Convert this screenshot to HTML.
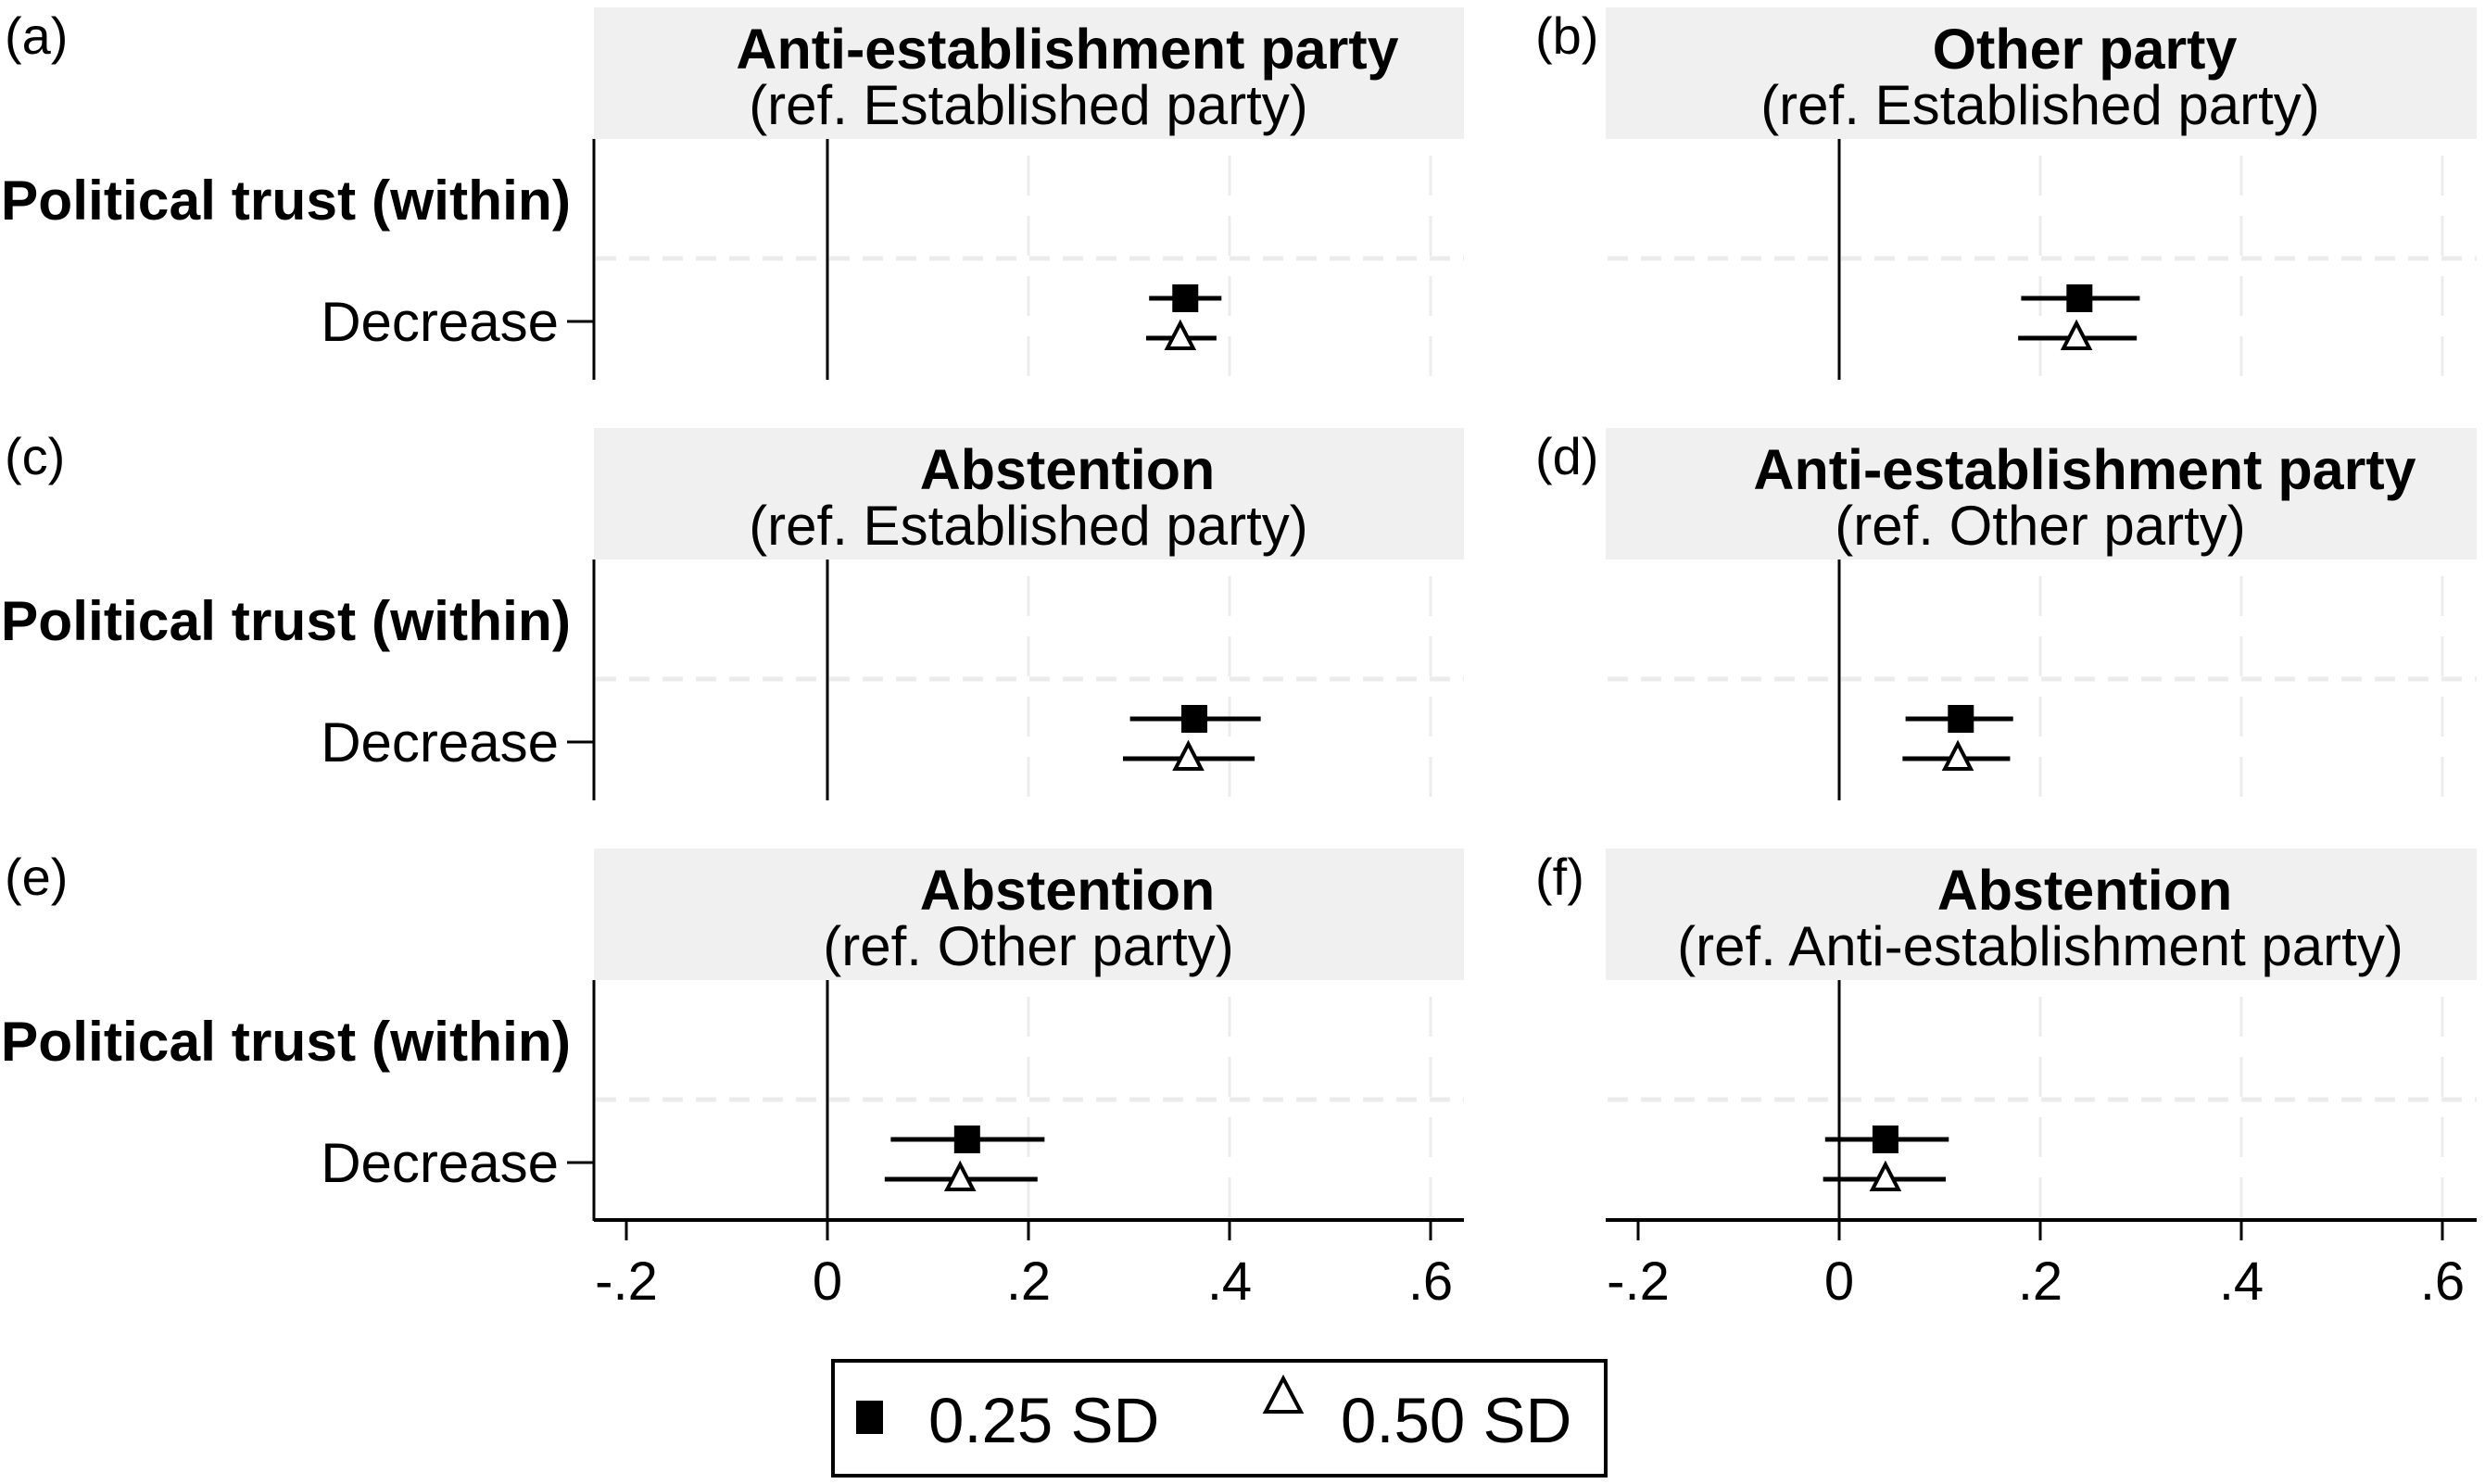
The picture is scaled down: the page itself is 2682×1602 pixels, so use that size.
<!DOCTYPE html>
<html><head><meta charset="utf-8">
<style>
html,body{margin:0;padding:0;background:#fff;}
svg{display:block;font-family:"Liberation Sans",Arial,sans-serif;}
</style></head>
<body>
<svg id="chart" width="2682" height="1602" viewBox="0 0 2682 1602" xmlns="http://www.w3.org/2000/svg"></svg>
<script>
const panelLetters = ["(a)","(b)","(c)","(d)","(e)","(f)"];
const titles = ["Anti-establishment party","Other party","Abstention","Anti-establishment party","Abstention","Abstention"];
const subtitles = ["(ref. Established party)","(ref. Established party)","(ref. Established party)","(ref. Other party)","(ref. Other party)","(ref. Anti-establishment party)"];
const xTicks = [-0.2, 0, 0.2, 0.4, 0.6];
const xTickLabels = ["-.2","0",".2",".4",".6"];
const est25 = [0.356, 0.239, 0.365, 0.121, 0.139, 0.046];
const lo25  = [0.320, 0.181, 0.301, 0.066, 0.063, -0.014];
const hi25  = [0.392, 0.299, 0.431, 0.173, 0.216, 0.109];
const est50 = [0.351, 0.236, 0.359, 0.118, 0.132, 0.046];
const lo50  = [0.317, 0.178, 0.294, 0.063, 0.057, -0.016];
const hi50  = [0.387, 0.296, 0.425, 0.170, 0.209, 0.106];

const svg = document.getElementById('chart');
const NS = "http://www.w3.org/2000/svg";
function mk(tag, attrs, parent){
  const e = document.createElementNS(NS, tag);
  for (const k in attrs) e.setAttribute(k, attrs[k]);
  (parent||svg).appendChild(e);
  return e;
}
const colX0 = [893, 1985];
const colLeft = [641, 1733];
const colRight = [1580, 2673];
const PXU = 217/0.2;
const rowTop = [8, 462, 916];
function xs(col, v){ return colX0[col] + v*PXU; }

for (let i=0;i<6;i++){
  const col = i%2, row = Math.floor(i/2);
  const top = rowTop[row];
  const sTop = top, sBot = top+142, pTop = sBot, pBot = sBot+260;
  const g = mk('g', {});
  
  
  const L = colLeft[col], R = colRight[col];
  const lt = mk('text', {x: col===0?5:1657, y: top+50, 'font-size':56}, g);
  lt.textContent = panelLetters[i];
  
  
  const strip = mk('rect', {x:L, y:sTop, width:R-L, height:sBot-sTop, fill:'#f0f0f0'}, g);
  
  
  const cx1 = col===0?1152:2250, cx2 = col===0?1110:2202;
  const t1 = mk('text', {x:cx1, y:sTop+66, 'font-size':61, 'font-weight':'bold', 'text-anchor':'middle'}, g);
  t1.textContent = titles[i];
  
  
  const t2 = mk('text', {x:cx2, y:sTop+126, 'font-size':60, 'text-anchor':'middle'}, g);
  t2.textContent = subtitles[i];
  
  
  for (let k=2;k<xTicks.length;k++){
    const gx = xs(col, xTicks[k]);
    const gl = mk('line', {x1:gx, x2:gx, y1:pTop+18, y2:pBot, stroke:'#ececec', 'stroke-width':3, 'stroke-dasharray':'43 22'}, g);
    
    
  }
  const hl = mk('line', {x1:L+2, x2:R, y1:pTop+129, y2:pTop+129, stroke:'#ececec', 'stroke-width':5, 'stroke-dasharray':'22 14'}, g);
  
  
  const z = mk('line', {x1:xs(col,0), x2:xs(col,0), y1:pTop, y2:pBot, stroke:'#000', 'stroke-width':3}, g);
  
  
  if (col===0){
    const ya = mk('line', {x1:L, x2:L, y1:pTop, y2:pBot, stroke:'#000', 'stroke-width':3}, g);
    
    
    const tk = mk('line', {x1:L-29, x2:L, y1:pTop+197, y2:pTop+197, stroke:'#000', 'stroke-width':3}, g);
    
    
    const pl = mk('text', {x:616, y:pTop+87, 'font-size':60.5, 'font-weight':'bold', 'text-anchor':'end'}, g);
    pl.textContent = "Political trust (within)";
    
    
    const dl = mk('text', {x:603, y:pTop+218, 'font-size':60, 'text-anchor':'end'}, g);
    dl.textContent = "Decrease";
    
    
  }
  const y1 = pTop+172, y2 = pTop+215;
  const ci1 = mk('line', {x1:xs(col,lo25[i]), x2:xs(col,hi25[i]), y1:y1, y2:y1, stroke:'#000', 'stroke-width':5}, g);
  
  
  const sq = mk('rect', {x:xs(col,est25[i])-14, y:y1-15, width:28, height:30, fill:'#000'}, g);
  
  
  const ci2 = mk('line', {x1:xs(col,lo50[i]), x2:xs(col,hi50[i]), y1:y2, y2:y2, stroke:'#000', 'stroke-width':5}, g);
  
  
  const tx = xs(col,est50[i]);
  const tr = mk('polygon', {points:`${tx},${y2-16} ${tx-14},${y2+11} ${tx+14},${y2+11}`, fill:'#fff', stroke:'#000', 'stroke-width':4}, g);
  
  
  if (row===2){
    const xa = mk('line', {x1:L, x2:R, y1:pBot-1, y2:pBot-1, stroke:'#000', 'stroke-width':4}, g);
    
    
    for (let k=0;k<xTicks.length;k++){
      const tx2 = xs(col, xTicks[k]);
      const t = mk('line', {x1:tx2, x2:tx2, y1:pBot, y2:pBot+21, stroke:'#000', 'stroke-width':3}, g);
      
      
      const tl = mk('text', {x:tx2, y:pBot+85, 'font-size':58, 'text-anchor':'middle'}, g);
      tl.textContent = xTickLabels[k];
      
      
    }
  }
}
const lg = mk('g', {});


mk('rect', {x:899, y:1469, width:834, height:124, fill:'#fff', stroke:'#000', 'stroke-width':4}, lg);
const ls = mk('rect', {x:924, y:1512, width:29, height:36, fill:'#000'}, lg);


const lt1 = mk('text', {x:1002, y:1557, 'font-size':69}, lg);
lt1.textContent = "0.25 SD";


const lp = mk('polygon', {points:"1385,1488 1366,1524 1404,1524", fill:'#fff', stroke:'#000', 'stroke-width':4}, lg);


const lt2 = mk('text', {x:1447, y:1557, 'font-size':69}, lg);
lt2.textContent = "0.50 SD";


</script>
</body></html>
